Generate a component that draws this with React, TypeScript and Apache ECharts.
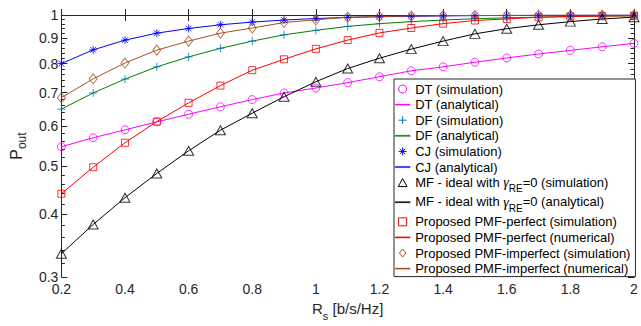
import React, { useEffect, useRef } from "react";
import * as echarts from "echarts";

const xValues = [0.2, 0.3, 0.4, 0.5, 0.6, 0.7, 0.8, 0.9, 1.0, 1.1, 1.2, 1.3, 1.4, 1.5, 1.6, 1.7, 1.8, 1.9, 2.0];
const dtValues = [0.546, 0.569, 0.59, 0.612, 0.634, 0.656, 0.678, 0.699, 0.715, 0.733, 0.753, 0.774, 0.788, 0.805, 0.821, 0.836, 0.85, 0.864, 0.878];
const dfValues = [0.649, 0.699, 0.745, 0.788, 0.825, 0.858, 0.887, 0.913, 0.932, 0.949, 0.961, 0.97, 0.977, 0.983, 0.987, 0.99, 0.993, 0.995, 0.996];
const cjValues = [0.8, 0.852, 0.891, 0.92, 0.94, 0.956, 0.968, 0.977, 0.984, 0.989, 0.992, 0.994, 0.996, 0.997, 0.998, 0.9985, 0.999, 0.9993, 0.9995];
const mfValues = [0.334, 0.382, 0.432, 0.483, 0.536, 0.589, 0.637, 0.687, 0.736, 0.782, 0.82, 0.855, 0.887, 0.917, 0.939, 0.956, 0.97, 0.982, 0.99];
const pmfPerfectValues = [0.44, 0.497, 0.556, 0.613, 0.668, 0.723, 0.776, 0.816, 0.856, 0.891, 0.921, 0.942, 0.961, 0.975, 0.982, 0.99, 0.993, 0.995, 0.997];
const pmfImperfectValues = [0.684, 0.746, 0.802, 0.851, 0.887, 0.92, 0.942, 0.966, 0.978, 0.99, 0.993, 0.995, 0.997, 0.998, 0.998, 0.999, 0.999, 0.9995, 0.9995];

const yMajorTicks = [0.3, 0.4, 0.5, 0.6, 0.7, 0.8, 0.9, 1];
const yMinorTicks = [
  0.32, 0.34, 0.36, 0.38, 0.42, 0.44, 0.46, 0.48, 0.52, 0.54, 0.56, 0.58,
  0.62, 0.64, 0.66, 0.68, 0.72, 0.74, 0.76, 0.78, 0.82, 0.84, 0.86, 0.88,
  0.92, 0.94, 0.96, 0.98,
];
const yMin = 0.3;
const yMax = 1;
const xMin = 0.2;
const xMax = 2;
const xStep = 0.2;

const FONT = "'Liberation Sans', Arial, Helvetica, sans-serif";
const AXIS = "#262626";
const C_DT = "#FF00FF";
const C_DF_M = "#0072BD";
const C_DF_L = "#008000";
const C_CJ = "#0000FF";
const C_MF = "#000000";
const C_PP = "#FF0000";
const C_PI = "#A5501E";

const PLUS = "path://M5,0L5,10M0,5L10,5";
const STAR = "path://M5,0L5,10M0,5L10,5M1.5,1.5L8.5,8.5M1.5,8.5L8.5,1.5";
const SQUARE = "path://M0,0L10,0L10,10L0,10Z";
const TRI = "path://M5,0L10,9L0,9Z";
const DIAMOND = "path://M4,0L8,5L4,10L0,5Z";
const LINE_ICON = "path://M0,0L12,0L12,1L0,1Z";

const lg = (v: number) => Math.log10(v);
const toData = (vals: number[]) => xValues.map((x, i) => [x, lg(vals[i])]);

export default function App() {
  const ref = useRef<HTMLDivElement>(null);
  useEffect(() => {
    if (!ref.current) return;
    const chart = echarts.init(ref.current, undefined, { renderer: "svg" });

    const lineSeries = (name: string, vals: number[], color: string) => ({
      type: "line",
      name,
      data: toData(vals),
      symbol: "none",
      lineStyle: { color, width: 1 },
      itemStyle: { color },
      silent: true,
      z: 2,
    });
    const simSeries = (name: string, vals: number[], color: string, symbol: string, size: any) => ({
      type: "scatter",
      name,
      data: toData(vals),
      symbol,
      symbolSize: size,
      itemStyle: { color: "rgba(0,0,0,0)", borderColor: color, borderWidth: 1 },
      silent: true,
      z: 3,
    });

    const names = {
      dtS: "DT (simulation)",
      dtA: "DT (analytical)",
      dfS: "DF (simulation)",
      dfA: "DF (analytical)",
      cjS: "CJ (simulation)",
      cjA: "CJ (analytical)",
      mfS: "MF - ideal with γRE=0 (simulation)",
      mfA: "MF - ideal with γRE=0 (analytical)",
      ppS: "Proposed PMF-perfect (simulation)",
      ppA: "Proposed PMF-perfect (numerical)",
      piS: "Proposed PMF-imperfect (simulation)",
      piA: "Proposed PMF-imperfect (numerical)",
    };

    const simIcon = (name: string, icon: string, color: string) => ({
      name,
      icon,
      itemStyle: { color: "rgba(0,0,0,0)", borderColor: color, borderWidth: 1, opacity: 1 },
    });
    const lineIcon = (name: string, color: string) => ({
      name,
      icon: LINE_ICON,
      itemStyle: { color, borderColor: color, borderWidth: 0.3, opacity: 1 },
    });

    const majorLog = yMajorTicks.map(lg);
    const minorLog = yMinorTicks.map(lg);

    const yBase = {
      type: "value",
      min: lg(yMin),
      max: lg(yMax),
      splitLine: { show: false },
    };

    chart.setOption({
      animation: false,
      backgroundColor: "#ffffff",
      grid: { left: 59, top: 15, width: 575, height: 269, containLabel: false },
      xAxis: [
        {
          type: "value",
          position: "bottom",
          min: xMin,
          max: xMax,
          interval: xStep,
          splitLine: { show: false },
          axisLine: { show: true, lineStyle: { color: AXIS, width: 1 } },
          axisTick: { show: true, inside: true, length: 6, lineStyle: { color: AXIS } },
          axisLabel: {
            show: true,
            margin: 5,
            color: AXIS,
            fontSize: 14,
            fontFamily: FONT,
            formatter: (v: number) => String(+v.toFixed(1)),
          },
          name: "{r|R}{s|s}{r| [b/s/Hz]}",
          nameLocation: "middle",
          nameGap: 22,
          nameTextStyle: {
            color: AXIS,
            fontFamily: FONT,
            rich: {
              r: { fontSize: 15, fontFamily: FONT, color: AXIS, lineHeight: 17, verticalAlign: "top" },
              s: { fontSize: 11, fontFamily: FONT, color: AXIS, lineHeight: 12, padding: [9, 0, 0, 0], verticalAlign: "top" },
            },
          },
        },
        {
          type: "value",
          position: "top",
          min: xMin,
          max: xMax,
          interval: xStep,
          splitLine: { show: false },
          axisLine: { show: true, lineStyle: { color: AXIS, width: 1 } },
          axisTick: { show: true, inside: true, length: 6, lineStyle: { color: AXIS } },
          axisLabel: { show: false },
        },
      ],
      yAxis: [
        {
          ...yBase,
          position: "left",
          axisLine: { show: true, lineStyle: { color: AXIS, width: 1 } },
          axisTick: { show: true, inside: true, length: 6, customValues: majorLog, lineStyle: { color: AXIS } },
          axisLabel: {
            show: true,
            margin: 3,
            color: AXIS,
            fontSize: 14,
            fontFamily: FONT,
            customValues: majorLog,
            formatter: (v: number) => String(Math.round(Math.pow(10, v) * 10) / 10),
          },
          name: "{p|P}{s|out}",
          nameLocation: "middle",
          nameRotate: 90,
          nameGap: 31,
          nameTextStyle: {
            color: AXIS,
            fontFamily: FONT,
            rich: {
              p: { fontSize: 16, fontFamily: FONT, color: AXIS, lineHeight: 18, verticalAlign: "top" },
              s: { fontSize: 12, fontFamily: FONT, color: AXIS, lineHeight: 13, padding: [8, 0, 0, 0], verticalAlign: "top" },
            },
          },
        },
        {
          ...yBase,
          position: "left",
          axisLine: { show: false },
          axisTick: { show: true, inside: true, length: 3.5, customValues: minorLog, lineStyle: { color: AXIS } },
          axisLabel: { show: false },
        },
        {
          ...yBase,
          position: "right",
          axisLine: { show: true, lineStyle: { color: AXIS, width: 1 } },
          axisTick: { show: true, inside: true, length: 6, customValues: majorLog, lineStyle: { color: AXIS } },
          axisLabel: { show: false },
        },
        {
          ...yBase,
          position: "right",
          axisLine: { show: false },
          axisTick: { show: true, inside: true, length: 3.5, customValues: minorLog, lineStyle: { color: AXIS } },
          axisLabel: { show: false },
        },
      ],
      legend: {
        show: true,
        orient: "vertical",
        left: 394,
        top: 79,
        padding: [3, 5, 1, 1],
        itemWidth: 15,
        itemHeight: 8,
        itemGap: 1.6,
        symbolKeepAspect: true,
        backgroundColor: "#ffffff",
        borderColor: AXIS,
        borderWidth: 1,
        borderRadius: 0,
        selectedMode: false,
        inactiveColor: "#ccc",
        textStyle: {
          fontSize: 13,
          fontFamily: FONT,
          color: "#000",
          lineHeight: 14,
          rich: {
            t: { fontSize: 13, fontFamily: FONT, color: "#000", lineHeight: 14, verticalAlign: "top" },
            g: { fontSize: 14, fontFamily: "'Liberation Serif', 'DejaVu Serif', serif", fontStyle: "italic", color: "#000", lineHeight: 14, verticalAlign: "top" },
            s: { fontSize: 10, fontFamily: FONT, color: "#000", lineHeight: 12, padding: [8, 0, 0, 0], verticalAlign: "top" },
          },
        },
        formatter: (name: string) => {
          if (name.startsWith("MF")) {
            const tail = name.includes("simulation") ? "=0 (simulation)" : "=0 (analytical)";
            return `{t|MF - ideal with }{g|γ}{s|RE}{t|${tail}}`;
          }
          return name;
        },
        data: [
          simIcon(names.dtS, "circle", C_DT),
          lineIcon(names.dtA, C_DT),
          simIcon(names.dfS, PLUS, C_DF_M),
          lineIcon(names.dfA, C_DF_L),
          simIcon(names.cjS, STAR, C_CJ),
          lineIcon(names.cjA, C_CJ),
          simIcon(names.mfS, TRI, C_MF),
          lineIcon(names.mfA, C_MF),
          simIcon(names.ppS, SQUARE, C_PP),
          lineIcon(names.ppA, C_PP),
          simIcon(names.piS, DIAMOND, C_PI),
          lineIcon(names.piA, C_PI),
        ],
      },
      series: [
        lineSeries(names.dtA, dtValues, C_DT),
        lineSeries(names.dfA, dfValues, C_DF_L),
        lineSeries(names.cjA, cjValues, C_CJ),
        lineSeries(names.mfA, mfValues, C_MF),
        lineSeries(names.ppA, pmfPerfectValues, C_PP),
        lineSeries(names.piA, pmfImperfectValues, C_PI),
        simSeries(names.dtS, dtValues, C_DT, "circle", 8),
        simSeries(names.dfS, dfValues, C_DF_M, PLUS, 8),
        simSeries(names.cjS, cjValues, C_CJ, STAR, 8),
        simSeries(names.mfS, mfValues, C_MF, TRI, [10, 9]),
        simSeries(names.ppS, pmfPerfectValues, C_PP, SQUARE, 7),
        simSeries(names.piS, pmfImperfectValues, C_PI, DIAMOND, [8, 10]),
      ],
    });
    return () => chart.dispose();
  }, []);
  return (
    <div
      ref={ref}
      style={{ position: "fixed", left: 0, top: 0, width: 641, height: 326, background: "#fff" }}
    />
  );
}
